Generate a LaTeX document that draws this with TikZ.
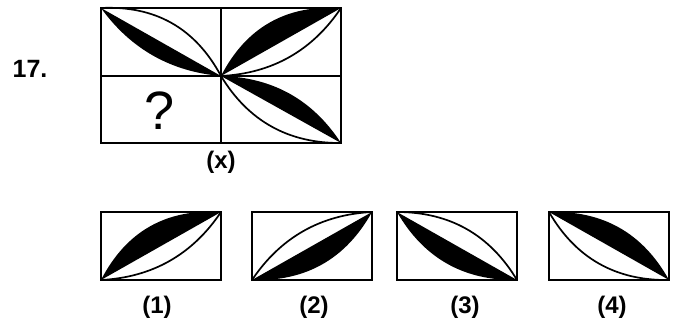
\documentclass[tikz,border=0pt]{standalone}
\usepackage{fontspec}
\setmainfont{Liberation Sans}
\usetikzlibrary{calc}
\tikzset{
  boxline/.style={draw=black, line width=2.3pt},
  leafblack/.style={fill=black},
  leafarc/.style={draw=black, line width=1.7pt},
  lbl/.style={font=\bfseries\fontsize{24}{26}\selectfont, inner sep=0pt, anchor=center},
}
% #1 start, #2 end, #3 signed offset of black curve controls, #4 signed offset of thin arc controls
\newcommand{\leafshape}[4]{%
  \fill[leafblack] (#1) .. controls ($(#1)!0.3333!(#2)!#3!90:(#2)$) and ($(#1)!0.6667!(#2)!#3!90:(#2)$) .. (#2) -- cycle;
  \draw[leafarc] (#1) .. controls ($(#1)!0.3333!(#2)!#4!90:(#2)$) and ($(#1)!0.6667!(#2)!#4!90:(#2)$) .. (#2);
}
\begin{document}
\begin{tikzpicture}[x=1pt,y=-1pt]
\useasboundingbox (0,0) rectangle (677,320);
% main figure corners
\coordinate (tl) at (101,8);
\coordinate (tm) at (221,8);
\coordinate (tr) at (341,8);
\coordinate (ml) at (101,76);
\coordinate (c)  at (221,76);
\coordinate (mr) at (341,76);
\coordinate (bl) at (101,143);
\coordinate (bm) at (221,143);
\coordinate (br) at (341,143);
% leaves of main figure
\leafshape{tl}{c}{-21pt}{29pt}
\leafshape{c}{tr}{30pt}{-23pt}
\leafshape{c}{br}{24pt}{-26pt}
% grid
\draw[boxline] (tl) rectangle (br);
\draw[boxline] (tm) -- (bm);
\draw[boxline] (ml) -- (mr);
\node[inner sep=0pt, font=\fontsize{54}{58}\selectfont] (q) at (160,111) {?};
\node[font=\bfseries\fontsize{25}{28}\selectfont, inner sep=0pt] (num) at (30,69) {17.};
\node[lbl] (lx) at (221,162) {(x)};
% options
\coordinate (oa1) at (101,280); \coordinate (ob1) at (221,212);
\coordinate (oa2) at (252,280); \coordinate (ob2) at (372,212);
\coordinate (oa3) at (397,212); \coordinate (ob3) at (517,280);
\coordinate (oa4) at (549,212); \coordinate (ob4) at (669,280);
\leafshape{oa1}{ob1}{30pt}{-23pt}
\leafshape{oa2}{ob2}{-28pt}{23pt}
\leafshape{oa3}{ob3}{-27pt}{26pt}
\leafshape{oa4}{ob4}{28pt}{-27pt}
\draw[boxline] (101,212) rectangle (221,280);
\draw[boxline] (252,212) rectangle (372,280);
\draw[boxline] (397,212) rectangle (517,280);
\draw[boxline] (549,212) rectangle (669,280);
\node[lbl] (l1) at (157,307) {(1)};
\node[lbl] (l2) at (314,307) {(2)};
\node[lbl] (l3) at (465,307) {(3)};
\node[lbl] (l4) at (612,307) {(4)};
\end{tikzpicture}
\end{document}
